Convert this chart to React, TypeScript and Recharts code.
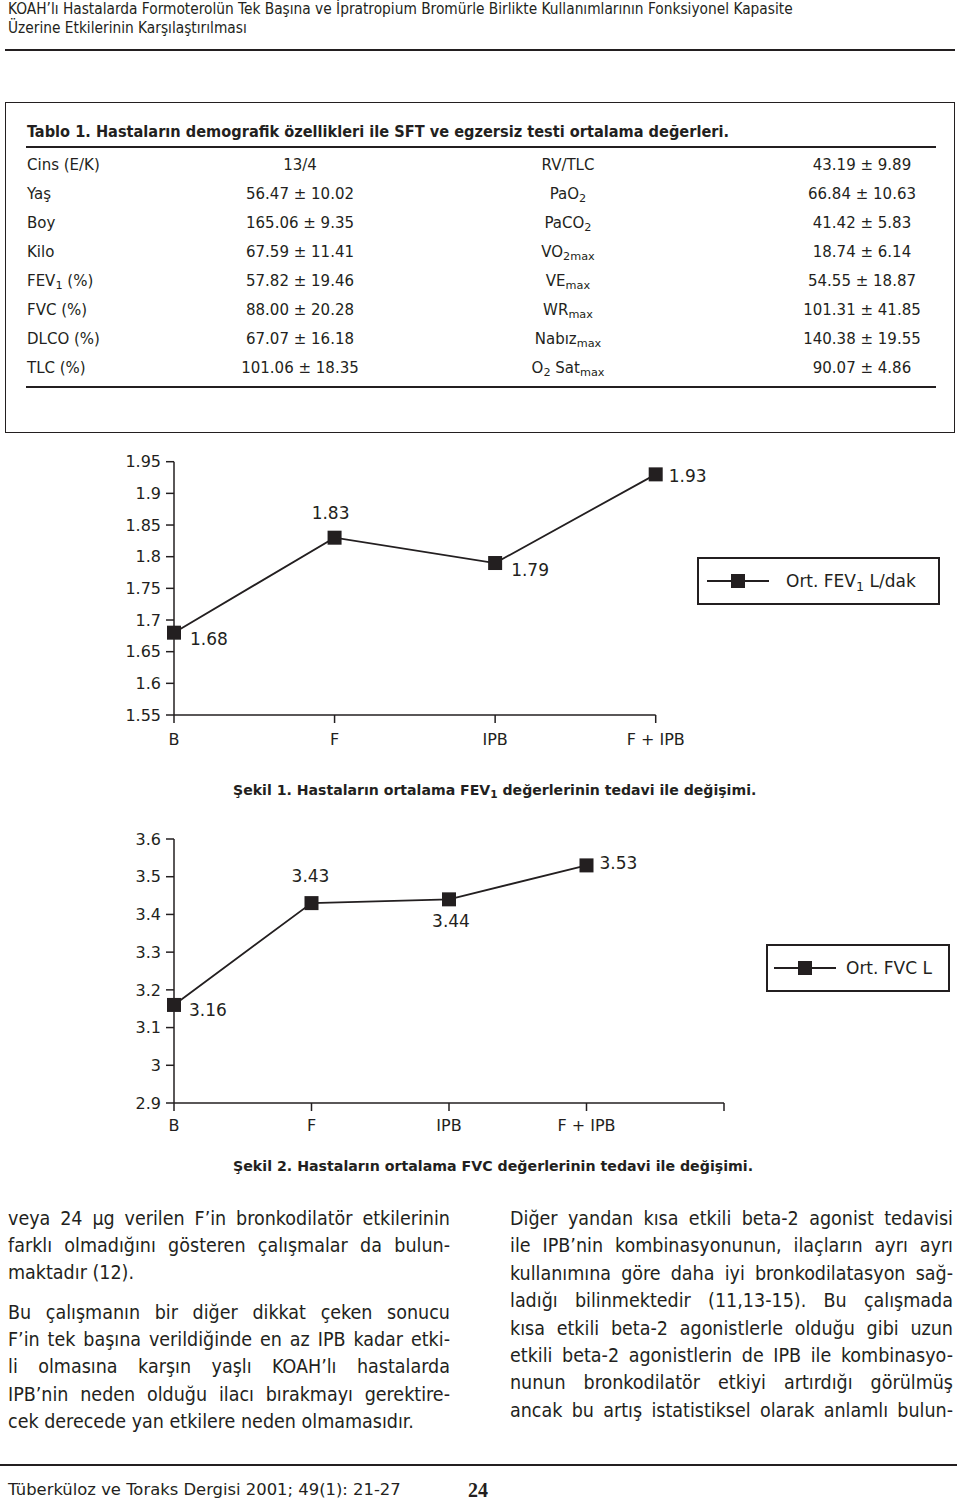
import React from 'react';
import { LineChart, Line, XAxis, YAxis, Legend, LabelList } from 'recharts';

const treatments = ['B', 'F', 'IPB', 'F + IPB'];
const fev1Values = [1.68, 1.83, 1.79, 1.93];
const fvcValues = [3.16, 3.43, 3.44, 3.53];
const fev1Ticks = [1.55, 1.6, 1.65, 1.7, 1.75, 1.8, 1.85, 1.9, 1.95];
const fvcTicks = [2.9, 3, 3.1, 3.2, 3.3, 3.4, 3.5, 3.6];

// label offsets from the point: [dx, dy, anchor]
const fev1LabelPos: [number, number, string][] = [[16, 6, 'start'], [-4, -25, 'middle'], [16, 7, 'start'], [13, 2, 'start']];
const fvcLabelPos: [number, number, string][] = [[15, 5, 'start'], [-1, -27, 'middle'], [2, 22, 'middle'], [13, -2, 'start']];

const tableLeft = [
  ['Cins (E/K)', '13/4'],
  ['Yaş', '56.47 ± 10.02'],
  ['Boy', '165.06 ± 9.35'],
  ['Kilo', '67.59 ± 11.41'],
  ['FEV_{1} (%)', '57.82 ± 19.46'],
  ['FVC (%)', '88.00 ± 20.28'],
  ['DLCO (%)', '67.07 ± 16.18'],
  ['TLC (%)', '101.06 ± 18.35'],
];
const tableRight = [
  ['RV/TLC', '43.19 ± 9.89'],
  ['PaO_{2}', '66.84 ± 10.63'],
  ['PaCO_{2}', '41.42 ± 5.83'],
  ['VO_{2max}', '18.74 ± 6.14'],
  ['VE_{max}', '54.55 ± 18.87'],
  ['WR_{max}', '101.31 ± 41.85'],
  ['Nabız_{max}', '140.38 ± 19.55'],
  ['O_{2} Sat_{max}', '90.07 ± 4.86'],
];

const leftColumn = [
  ['veya 24 µg verilen F’in bronkodilatör etkilerinin', 'farklı olmadığını gösteren çalışmalar da bulun-', 'maktadır (12).'],
  ['Bu çalışmanın bir diğer dikkat çeken sonucu', 'F’in tek başına verildiğinde en az IPB kadar etki-', 'li olmasına karşın yaşlı KOAH’lı hastalarda', 'IPB’nin neden olduğu ilacı bırakmayı gerektire-', 'cek derecede yan etkilere neden olmamasıdır.'],
];
const rightColumn = [
  ['Diğer yandan kısa etkili beta-2 agonist tedavisi', 'ile IPB’nin kombinasyonunun, ilaçların ayrı ayrı', 'kullanımına göre daha iyi bronkodilatasyon sağ-', 'ladığı bilinmektedir (11,13-15). Bu çalışmada', 'kısa etkili beta-2 agonistlerle olduğu gibi uzun', 'etkili beta-2 agonistlerin de IPB ile kombinasyo-', 'nunun bronkodilatör etkiyi artırdığı görülmüş', 'ancak bu artış istatistiksel olarak anlamlı bulun-'],
];

const INK = '#231f20';
const cond = '"DejaVu Sans Condensed", "Liberation Sans Narrow", "Liberation Sans", sans-serif';
const human = '"DejaVu Sans", "Open Sans", sans-serif';

function Sub({ text }: { text: string }) {
  const parts = text.split(/_\{([^}]*)\}/);
  return (
    <>
      {parts.map((p, i) =>
        i % 2 === 1 ? (
          <sub key={i} style={{ fontSize: '0.75em', verticalAlign: '-0.3em', lineHeight: 0 }}>{p}</sub>
        ) : (
          <span key={i}>{p}</span>
        )
      )}
    </>
  );
}

const abs = (left: number, top: number, extra: React.CSSProperties = {}): React.CSSProperties => ({
  position: 'absolute',
  left,
  top,
  ...extra,
});

function SquareDot(props: any) {
  const { cx, cy } = props;
  if (cx == null || cy == null) return null;
  return <rect x={cx - 7} y={cy - 7} width={14} height={14} fill={INK} />;
}

function makeLabel(pos: [number, number, string][]) {
  return (props: any) => {
    const { x, y, value, index } = props;
    if (value == null) return null;
    const [dx, dy, anchor] = pos[index];
    return (
      <text x={x + dx} y={y + dy} dy="0.35em" textAnchor={anchor} fontFamily={human} fontSize={17} fill={INK}>
        {value}
      </text>
    );
  };
}

function LegendBox({ label, width, padLeft, gap }: { label: string; width: number; padLeft: number; gap: number }) {
  return (
    <div
      style={{
        width,
        height: 48,
        border: `2px solid ${INK}`,
        boxSizing: 'border-box',
        display: 'flex',
        alignItems: 'center',
        fontFamily: human,
        fontSize: 17,
        color: INK,
        background: '#fff',
      }}
    >
      <svg width={62} height={20} style={{ marginLeft: padLeft, marginRight: gap, flex: 'none' }}>
        <line x1={0} y1={10} x2={62} y2={10} stroke={INK} strokeWidth={1.8} />
        <rect x={24} y={3} width={14} height={14} fill={INK} />
      </svg>
      <span style={{ whiteSpace: 'nowrap' }}>
        <Sub text={label} />
      </span>
    </div>
  );
}

function TrendChart({
  data,
  ticks,
  domain,
  labelPos,
  marginTop,
  marginRight,
  marginBottom,
  xTickMargin,
  legendLabel,
  legendLeft,
  legendTop,
  legendWidth,
  legendPad,
  legendGap,
}: any) {
  return (
    <LineChart
      width={960}
      height={320}
      data={data}
      margin={{ top: marginTop, right: marginRight, left: 0, bottom: marginBottom }}
    >
      <XAxis
        dataKey="name"
        type="category"
        scale="point"
        padding={{ left: 0, right: 0 }}
        interval={0}
        height={30}
        tickSize={8}
        tickMargin={xTickMargin}
        axisLine={{ stroke: INK, strokeWidth: 1.5 }}
        tickLine={{ stroke: INK, strokeWidth: 1.5 }}
        tick={{ fill: INK, fontSize: 16, fontFamily: human }}
      />
      <YAxis
        type="number"
        domain={domain}
        ticks={ticks}
        interval={0}
        width={174}
        tickSize={8}
        tickMargin={5}
        axisLine={{ stroke: INK, strokeWidth: 1.5 }}
        tickLine={{ stroke: INK, strokeWidth: 1.5 }}
        tick={{ fill: INK, fontSize: 16, fontFamily: human }}
        tickFormatter={(v: number) => String(v)}
      />
      <Legend
        layout="horizontal"
        verticalAlign="middle"
        align="center"
        content={() => <LegendBox label={legendLabel} width={legendWidth} padLeft={legendPad} gap={legendGap} />}
        wrapperStyle={{ position: 'absolute', left: legendLeft, top: legendTop, width: legendWidth, height: 48 }}
      />
      <Line
        dataKey="value"
        name={legendLabel}
        stroke={INK}
        strokeWidth={1.8}
        dot={<SquareDot />}
        activeDot={false}
        isAnimationActive={false}
      >
        <LabelList dataKey="value" content={makeLabel(labelPos)} />
      </Line>
    </LineChart>
  );
}

export default function App() {
  const fev1Data = treatments.map((t, i) => ({ name: t, value: fev1Values[i] }));
  const fvcData = [...treatments.map((t, i) => ({ name: t, value: fvcValues[i] })), { name: '', value: null }];

  const rowTop = (i: number) => 164.5 + i * 29 - 11;
  const cell: React.CSSProperties = { fontFamily: human, fontSize: 15, color: INK, lineHeight: '22px', whiteSpace: 'nowrap' };
  const centered = (cx: number, top: number): React.CSSProperties => ({
    ...cell,
    position: 'absolute',
    left: cx - 150,
    width: 300,
    top,
    textAlign: 'center',
  });

  const bodyStyle: React.CSSProperties = {
    fontFamily: cond,
    fontSize: 19.5,
    color: INK,
    lineHeight: '26px',
    whiteSpace: 'nowrap',
  };

  const renderColumn = (paras: string[][], left: number, width: number, starts: number[], step: number, justifyLast: boolean) =>
    paras.map((lines, pi) =>
      lines.map((ln, li) => {
        const last = li === lines.length - 1 && !justifyLast;
        return (
          <div
            key={`${left}-${pi}-${li}`}
            style={{
              ...bodyStyle,
              ...abs(left, starts[pi] + li * step - 13),
              width,
              textAlign: 'justify',
              textAlignLast: last ? 'left' : 'justify',
              whiteSpace: 'normal',
            }}
          >
            {ln}
          </div>
        );
      })
    );

  return (
    <div style={{ position: 'absolute', left: 0, top: 0, width: 960, height: 1505, background: '#fff', color: INK }}>
      <div style={{ ...abs(8, 0), fontFamily: cond, fontSize: 15.3, lineHeight: '19px', whiteSpace: 'nowrap' }}>
        KOAH’lı Hastalarda Formoterolün Tek Başına ve İpratropium Bromürle Birlikte Kullanımlarının Fonksiyonel Kapasite
        <br />
        Üzerine Etkilerinin Karşılaştırılması
      </div>
      <div style={{ ...abs(5, 49), width: 950, borderTop: `2px solid ${INK}` }} />

      <div style={{ ...abs(5, 102), width: 950, height: 331, border: `1.5px solid ${INK}`, boxSizing: 'border-box' }} />
      <div style={{ ...abs(27, 120), fontFamily: cond, fontWeight: 'bold', fontSize: 16.2, lineHeight: '24px', whiteSpace: 'nowrap' }}>
        Tablo 1. Hastaların demografik özellikleri ile SFT ve egzersiz testi ortalama değerleri.
      </div>
      <div style={{ ...abs(26, 146), width: 910, borderTop: `2px solid ${INK}` }} />
      {tableLeft.map(([label, val], i) => (
        <React.Fragment key={`l${i}`}>
          <div style={{ ...cell, ...abs(27, rowTop(i)) }}>
            <Sub text={label} />
          </div>
          <div style={centered(300, rowTop(i))}>{val}</div>
        </React.Fragment>
      ))}
      {tableRight.map(([label, val], i) => (
        <React.Fragment key={`r${i}`}>
          <div style={centered(568, rowTop(i))}>
            <Sub text={label} />
          </div>
          <div style={centered(862, rowTop(i))}>{val}</div>
        </React.Fragment>
      ))}
      <div style={{ ...abs(26, 386), width: 910, borderTop: `2px solid ${INK}` }} />

      <div style={abs(0, 440)}>
        <TrendChart
          data={fev1Data}
          ticks={fev1Ticks}
          domain={[1.55, 1.95]}
          labelPos={fev1LabelPos}
          marginTop={21.7}
          marginRight={304.3}
          marginBottom={15}
          xTickMargin={11}
          legendLabel="Ort. FEV_{1} L/dak"
          legendLeft={697}
          legendTop={117}
          legendWidth={243}
          legendPad={8}
          legendGap={17}
        />
      </div>
      <div style={{ ...abs(233, 779), fontFamily: human, fontWeight: 'bold', fontSize: 14.1, lineHeight: '22px', whiteSpace: 'nowrap' }}>
        Şekil 1. Hastaların ortalama <Sub text="FEV_{1}" /> değerlerinin tedavi ile değişimi.
      </div>

      <div style={abs(0, 820)}>
        <TrendChart
          data={fvcData}
          ticks={fvcTicks}
          domain={[2.9, 3.6]}
          labelPos={fvcLabelPos}
          marginTop={19}
          marginRight={236}
          marginBottom={7}
          xTickMargin={9}
          legendLabel="Ort. FVC L"
          legendLeft={766}
          legendTop={124}
          legendWidth={184}
          legendPad={6}
          legendGap={10}
        />
      </div>
      <div style={{ ...abs(233, 1155), fontFamily: human, fontWeight: 'bold', fontSize: 14.2, lineHeight: '22px', whiteSpace: 'nowrap' }}>
        Şekil 2. Hastaların ortalama FVC değerlerinin tedavi ile değişimi.
      </div>

      {renderColumn(leftColumn, 8, 442, [1219, 1313], 27.2, false)}
      {renderColumn(rightColumn, 510, 443, [1219], 27.4, true)}

      <div style={{ ...abs(0, 1464), width: 957, borderTop: `2px solid ${INK}` }} />
      <div style={{ ...abs(8, 1479), fontFamily: human, fontSize: 16.4, lineHeight: '22px', whiteSpace: 'nowrap' }}>
        Tüberküloz ve Toraks Dergisi 2001; 49(1): 21-27
      </div>
      <div style={{ ...abs(468, 1478), fontFamily: '"Liberation Serif", serif', fontWeight: 'bold', fontSize: 20, lineHeight: '24px' }}>
        24
      </div>
    </div>
  );
}
